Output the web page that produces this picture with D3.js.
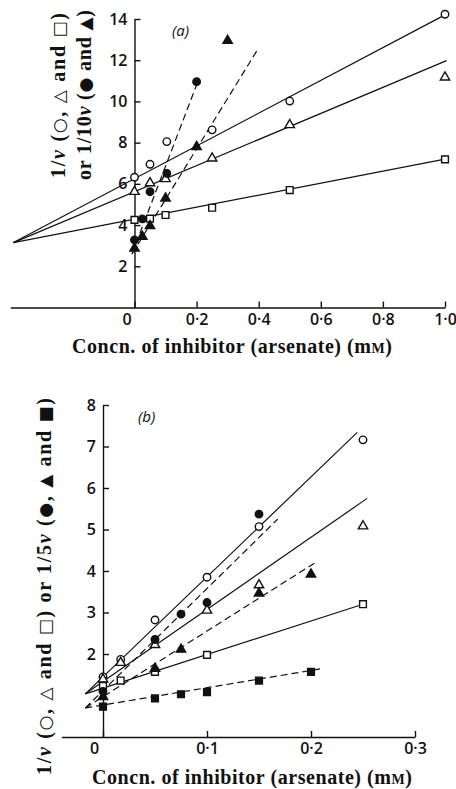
<!DOCTYPE html>
<html>
<head>
<meta charset="utf-8">
<script src="https://cdn.jsdelivr.net/npm/d3@7"></script>
<style>
body { margin: 0; background: #fff; }
.title { font-family: "Liberation Serif", "DejaVu Serif", serif; font-weight: bold; font-size: 20px; fill: #111; }
.sym { font-family: "DejaVu Sans", sans-serif; font-weight: normal; font-size: 17px; }
.panel-tag { font-family: "Open Sans", sans-serif; font-style: italic; font-size: 15px; fill: #111; }
</style>
</head>
<body>
<svg id="chart" width="456" height="789"></svg>
<script>

// ---- panel (a) ----
const aTicksX = [0, 0.2, 0.4, 0.6, 0.8, 1.0]
const aTicksY = [2, 4, 6, 8, 10, 12, 14]

const aOpenCircleX = [0, 0.05, 0.104, 0.25, 0.5, 1.0]
const aOpenCircleY = [6.32, 6.95, 8.05, 8.62, 10.02, 14.23]
const aOpenTriX = [0, 0.05, 0.1, 0.25, 0.5, 1.0]
const aOpenTriY = [5.62, 6.04, 6.24, 7.24, 8.86, 11.17]
const aOpenSquareX = [0, 0.05, 0.1, 0.25, 0.5, 1.0]
const aOpenSquareY = [4.25, 4.31, 4.49, 4.84, 5.70, 7.19]
const aFilledCircleX = [0, 0.025, 0.05, 0.104, 0.2]
const aFilledCircleY = [3.28, 4.30, 5.62, 6.51, 10.96]
const aFilledTriX = [0, 0.025, 0.05, 0.1, 0.2, 0.3]
const aFilledTriY = [2.87, 3.44, 3.96, 5.30, 7.80, 12.95]

// fitted lines (end points)
const aLineOpenCircle = [[-0.39, 3.15], [1.0, 14.2]]
const aLineOpenTri = [[-0.39, 3.15], [1.005, 11.98]]
const aLineOpenSquare = [[-0.39, 3.15], [1.0, 7.2]]
const aLineFilledCircle = [[-0.008, 2.6], [0.205, 11.0]]
const aLineFilledTri = [[-0.008, 2.6], [0.397, 12.53]]

// ---- panel (b) ----
const bTicksX = [0, 0.1, 0.2, 0.3]
const bTicksY = [2, 3, 4, 5, 6, 7, 8]

const bOpenCircleX = [0, 0.017, 0.05, 0.1, 0.15, 0.25]
const bOpenCircleY = [1.45, 1.87, 2.82, 3.85, 5.07, 7.16]
const bOpenTriX = [0, 0.017, 0.05, 0.1, 0.15, 0.25]
const bOpenTriY = [1.39, 1.79, 2.22, 3.05, 3.66, 5.08]
const bOpenSquareX = [0, 0.017, 0.05, 0.1, 0.25]
const bOpenSquareY = [1.23, 1.36, 1.57, 1.98, 3.20]
const bFilledCircleX = [0, 0.05, 0.075, 0.1, 0.15]
const bFilledCircleY = [1.1, 2.35, 2.96, 3.24, 5.37]
const bFilledTriX = [0, 0.05, 0.075, 0.15, 0.2]
const bFilledTriY = [0.97, 1.65, 2.11, 3.46, 3.92]
const bFilledSquareX = [0, 0.05, 0.075, 0.1, 0.15, 0.2]
const bFilledSquareY = [0.73, 0.93, 1.03, 1.08, 1.36, 1.57]

const bLineOpenCircle = [[-0.017, 1.04], [0.2445, 7.34]]
const bLineOpenTri = [[-0.017, 1.04], [0.254, 5.75]]
const bLineOpenSquare = [[-0.017, 1.04], [0.25, 3.2]]
const bLineFilledCircle = [[-0.017, 0.7], [0.168, 5.25]]
const bLineFilledTri = [[-0.017, 0.7], [0.204, 4.2]]
const bLineFilledSquare = [[-0.017, 0.7], [0.2087, 1.64]]


const svg = d3.select("#chart")
const ink = "#111"

const CIRCLE = {type: d3.symbolCircle, size: 44}
const TRI = {type: d3.symbolTriangle, size: 38}
const SQUARE = {type: d3.symbolSquare, size: 46}

function fmtTick(d) {
    if (d === 0) return "0"
    return d3.format(".1f")(d).replace(".", "·")
}

function drawAxes(g, x, y, ticksX, ticksY, zeroShift) {
    const xAxis = g.append("g")
        .attr("transform", `translate(0, ${y(0)})`)
        .call(d3.axisBottom(x).tickValues(ticksX).tickFormat(fmtTick)
            .tickSize(-6).tickSizeOuter(0).tickPadding(6))
    const yAxis = g.append("g")
        .attr("transform", `translate(${x(0)}, 0)`)
        .call(d3.axisLeft(y).tickValues(ticksY)
            .tickSize(-6).tickSizeOuter(0).tickPadding(7))

    // shift the "0" label a bit left like the original print
    xAxis.selectAll(".tick text").filter(d => d === 0).attr("dx", zeroShift)

    for (const ax of [xAxis, yAxis]) {
        ax.attr("font-family", "'Open Sans', sans-serif").attr("font-size", 16).attr("font-weight", 600)
        ax.selectAll("path, line").attr("stroke", ink).attr("stroke-width", 1.4)
        ax.selectAll("text").attr("fill", ink)
    }
}

function drawLine(g, x, y, pts, dashed) {
    const line = d3.line().x(d => x(d[0])).y(d => y(d[1]))
    g.append("path")
        .attr("d", line(pts))
        .attr("fill", "none")
        .attr("stroke", ink)
        .attr("stroke-width", 1.2)
        .attr("stroke-dasharray", dashed ? "7,4" : null)
}

function drawPoints(g, x, y, xs, ys, shape, filled) {
    const sym = d3.symbol().type(shape.type).size(shape.size)
    g.selectAll(null)
        .data(d3.zip(xs, ys))
        .join("path")
        .attr("d", sym)
        .attr("transform", d => `translate(${x(d[0])}, ${y(d[1])})`)
        .attr("fill", filled ? ink : "#fff")
        .attr("stroke", ink)
        .attr("stroke-width", 1.4)
}

// parts: [text, style]  style "i" = italic, "s" = marker glyph
function yLabel(g, px, py, len, parts) {
    const t = g.append("text")
        .attr("class", "title")
        .attr("text-anchor", "middle")
        .attr("textLength", len)
        .attr("lengthAdjust", "spacing")
        .attr("transform", `translate(${px}, ${py}) rotate(-90)`)
    parts.forEach(p => {
        const s = t.append("tspan").text(p[0])
        if (p[1] === "i") s.attr("font-style", "italic")
        if (p[1] === "s") s.attr("class", "sym")
    })
}

function xLabel(g, px, py, len) {
    const t = g.append("text")
        .attr("class", "title")
        .attr("text-anchor", "middle")
        .attr("textLength", len)
        .attr("lengthAdjust", "spacing")
        .attr("x", px).attr("y", py)
    t.append("tspan").text("Concn. of inhibitor (arsenate) (m")
    t.append("tspan").text("M").attr("font-size", "14px")
    t.append("tspan").text(")")
}

// ---------- panel (a) ----------
const xA = d3.scaleLinear().domain([-0.4, 1.0]).range([10.3, 445])
const yA = d3.scaleLinear().domain([0, 14]).range([307.5, 19])
const gA = svg.append("g")

drawAxes(gA, xA, yA, aTicksX, aTicksY, -8)

drawLine(gA, xA, yA, aLineOpenCircle, false)
drawLine(gA, xA, yA, aLineOpenTri, false)
drawLine(gA, xA, yA, aLineOpenSquare, false)
drawLine(gA, xA, yA, aLineFilledCircle, true)
drawLine(gA, xA, yA, aLineFilledTri, true)

drawPoints(gA, xA, yA, aOpenCircleX, aOpenCircleY, CIRCLE, false)
drawPoints(gA, xA, yA, aOpenTriX, aOpenTriY, TRI, false)
drawPoints(gA, xA, yA, aOpenSquareX, aOpenSquareY, SQUARE, false)
drawPoints(gA, xA, yA, aFilledCircleX, aFilledCircleY, CIRCLE, true)
drawPoints(gA, xA, yA, aFilledTriX, aFilledTriY, TRI, true)

gA.append("text").attr("class", "panel-tag").attr("x", 172).attr("y", 36).text("(a)")
yLabel(gA, 65, 95.5, 165, [["1/"], ["v", "i"], [" ("], ["○", "s"], [", "], ["△", "s"], [" and "], ["□", "s"], [")"]])
yLabel(gA, 91, 95, 170, [["or 1/10"], ["v", "i"], [" ("], ["●", "s"], [" and "], ["▲", "s"], [")"]])
xLabel(gA, 232, 353, 320)

// ---------- panel (b) ----------
const xB = d3.scaleLinear().domain([-0.04, 0.3]).range([61.4, 415])
const yB = d3.scaleLinear().domain([0, 8]).range([737, 405])
const gB = svg.append("g")

drawAxes(gB, xB, yB, bTicksX, bTicksY, -9)

drawLine(gB, xB, yB, bLineOpenCircle, false)
drawLine(gB, xB, yB, bLineOpenTri, false)
drawLine(gB, xB, yB, bLineOpenSquare, false)
drawLine(gB, xB, yB, bLineFilledCircle, true)
drawLine(gB, xB, yB, bLineFilledTri, true)
drawLine(gB, xB, yB, bLineFilledSquare, true)

drawPoints(gB, xB, yB, bOpenCircleX, bOpenCircleY, CIRCLE, false)
drawPoints(gB, xB, yB, bOpenTriX, bOpenTriY, TRI, false)
drawPoints(gB, xB, yB, bOpenSquareX, bOpenSquareY, SQUARE, false)
drawPoints(gB, xB, yB, bFilledCircleX, bFilledCircleY, CIRCLE, true)
drawPoints(gB, xB, yB, bFilledTriX, bFilledTriY, TRI, true)
drawPoints(gB, xB, yB, bFilledSquareX, bFilledSquareY, SQUARE, true)

gB.append("text").attr("class", "panel-tag").attr("x", 138).attr("y", 422).text("(b)")
yLabel(gB, 51, 586.5, 377, [["1/"], ["v", "i"], [" ("], ["○", "s"], [", "], ["△", "s"], [" and "], ["□", "s"],
    [") or 1/5"], ["v", "i"], [" ("], ["●", "s"], [", "], ["▲", "s"], [" and "], ["■", "s"], [")"]])
xLabel(gB, 252, 784, 320)

</script>
</body>
</html>
